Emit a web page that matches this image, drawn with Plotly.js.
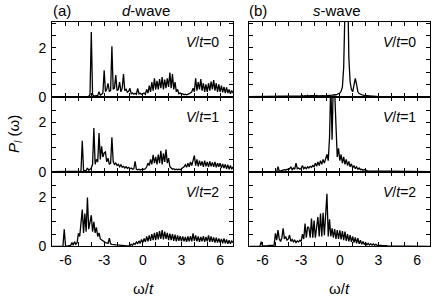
<!DOCTYPE html>
<html>
<head>
<meta charset="utf-8">
<script src="https://cdn.plot.ly/plotly-3.0.1.min.js"></script>
<style>html,body{margin:0;padding:0;background:#fff;}#chart{width:436px;height:299px;}</style>
</head>
<body>
<div id="chart"></div>
<script>
// ---- data ----
const omega = [
-7,-6.9,-6.8,-6.7,-6.6,-6.5,-6.4,-6.3,-6.2,-6.1,
-6,-5.9,-5.8,-5.7,-5.6,-5.5,-5.4,-5.3,-5.2,-5.1,
-5,-4.9,-4.8,-4.7,-4.6,-4.5,-4.4,-4.3,-4.2,-4.1,
-4,-3.9,-3.8,-3.7,-3.6,-3.5,-3.4,-3.3,-3.2,-3.1,
-3,-2.9,-2.8,-2.7,-2.6,-2.5,-2.4,-2.3,-2.2,-2.1,
-2,-1.9,-1.8,-1.7,-1.6,-1.5,-1.4,-1.3,-1.2,-1.1,
-1,-0.9,-0.8,-0.7,-0.6,-0.5,-0.4,-0.3,-0.2,-0.1,
0,0.1,0.2,0.3,0.4,0.5,0.6,0.7,0.8,0.9,
1,1.1,1.2,1.3,1.4,1.5,1.6,1.7,1.8,1.9,
2,2.1,2.2,2.3,2.4,2.5,2.6,2.7,2.8,2.9,
3,3.1,3.2,3.3,3.4,3.5,3.6,3.7,3.8,3.9,
4,4.1,4.2,4.3,4.4,4.5,4.6,4.7,4.8,4.9,
5,5.1,5.2,5.3,5.4,5.5,5.6,5.7,5.8,5.9,
6,6.1,6.2,6.3,6.4,6.5,6.6,6.7,6.8,6.9,
7];

const dWaveV0 = [
0,0,0,0,0,0,0,0,0,0,
0,0,0,0,0,0,0,0,0,0,
0,0,0,0,0,0,0,0,0.01,0.08,
2.64,0.08,0.03,0.03,0.04,0.05,0.2,0.06,0.1,0.15,
1.08,0.2,0.3,0.54,0.22,0.25,2.06,0.3,0.35,0.88,
0.25,0.3,0.6,0.2,0.35,0.92,0.25,0.3,0.18,0.22,
0.34,0.12,0.15,0.1,0.14,0.1,0.34,0.12,0.14,0.1,
0.12,0.15,0.1,0.3,0.15,0.45,0.2,0.6,0.25,0.75,
0.3,0.65,0.3,0.72,0.35,0.8,0.3,0.7,0.35,0.75,
0.4,0.99,0.35,0.92,0.3,0.6,0.2,0.3,0.12,0.15,
0.1,0.12,0.08,0.1,0.08,0.1,0.12,0.15,0.2,0.35,
0.2,0.75,0.25,0.6,0.3,0.72,0.25,0.55,0.2,0.5,
0.2,0.55,0.25,0.62,0.3,0.68,0.25,0.55,0.2,0.5,
0.2,0.45,0.18,0.4,0.15,0.38,0.15,0.3,0.12,0.25,
0.15];

const sWaveV0 = [
0,0,0,0,0,0,0,0,0,0,
0,0,0,0,0,0,0,0,0,0,
0,0,0,0,0,0,0,0,0,0,
0,0,0,0,0,0.01,0.02,0.01,0.02,0.03,
0.03,0.05,0.02,0.04,0.03,0.06,0.03,0.04,0.05,0.03,
0.04,0.03,0.05,0.03,0.04,0.03,0.05,0.04,0.03,0.04,
0.04,0.05,0.04,0.05,0.06,0.07,0.06,0.08,0.1,0.12,
0.15,0.22,0.4,1.2,3.2,6,5,1.6,0.6,0.3,
0.2,0.45,0.75,0.5,0.2,0.13,0.1,0.08,0.06,0.05,
0.04,0.04,0.03,0.03,0.02,0.02,0.02,0.01,0.01,0.01,
0,0,0,0,0,0,0,0,0,0,
0,0,0,0,0,0,0,0,0,0,
0,0,0,0,0,0,0,0,0,0,
0,0,0,0,0,0,0,0,0,0,
0];

const dWaveV1 = [
0,0,0,0,0,0,0,0,0,0,
0,0,0,0,0,0,0,0,0,0,
0,0,0.02,1.26,0.05,0.03,0.05,0.15,0.06,0.1,
0.15,0.3,1.78,0.3,0.5,0.4,1.57,0.5,1.03,0.6,
0.76,0.8,0.4,0.55,0.3,0.35,1.4,0.4,0.3,0.35,
0.25,0.3,0.2,0.28,0.18,0.22,0.15,0.2,0.14,0.18,
0.12,0.15,0.1,0.12,0.42,0.1,0.08,0.1,0.07,0.09,
0.08,0.1,0.12,0.2,0.35,0.25,0.5,0.3,0.69,0.35,
0.6,0.3,0.7,0.35,0.85,0.3,0.75,0.4,0.9,0.35,
0.55,0.2,0.15,0.1,0.12,0.08,0.1,0.08,0.1,0.08,
0.12,0.15,0.2,0.28,0.18,0.35,0.2,0.4,0.25,0.45,
0.66,0.25,0.5,0.22,0.45,0.25,0.42,0.2,0.45,0.22,
0.4,0.2,0.42,0.22,0.38,0.2,0.4,0.18,0.35,0.2,
0.35,0.15,0.32,0.15,0.3,0.12,0.28,0.1,0.25,0.1,
0.2];

const sWaveV1 = [
0,0,0,0,0,0,0,0,0,0,
0,0,0,0,0,0,0,0,0,0,
0,0.01,0.2,0.02,0.03,0.05,0.04,0.08,0.06,0.1,
0.08,0.12,0.2,0.08,0.15,0.1,0.35,0.12,0.15,0.1,
0.14,0.25,0.12,0.18,0.12,0.2,0.15,0.22,0.18,0.25,
0.2,0.35,0.22,0.4,0.25,0.45,0.3,0.5,0.35,0.55,
0.7,0.45,1.37,3.6,1.3,3.8,3.3,1.9,0.6,0.95,
0.45,0.7,0.35,0.6,0.3,0.5,0.25,0.42,0.2,0.32,
0.15,0.25,0.12,0.2,0.1,0.15,0.08,0.1,0.06,0.08,
0.05,0.04,0.03,0.03,0.02,0.02,0.01,0.01,0.01,0,
0,0,0,0,0,0,0,0,0,0,
0,0,0,0,0,0,0,0,0,0,
0,0,0,0,0,0,0,0,0,0,
0,0,0,0,0,0,0,0,0,0,
0];

const dWaveV2 = [
0,0,0,0,0,0,0,0,0.01,0.69,
0.02,0.01,0.02,0.03,0.04,0.15,0.05,0.19,0.08,0.15,
0.53,0.4,1.07,1.5,0.55,1.34,0.6,1.99,0.7,1.07,
1.27,0.6,1.0,0.55,0.77,0.4,0.55,0.3,0.26,0.2,
0.18,0.15,0.14,0.12,0.33,0.1,0.08,0.09,0.07,0.06,
0.06,0.05,0.05,0.04,0.04,0.03,0.03,0.02,0.02,0.02,
0.03,0.08,0.05,0.12,0.08,0.18,0.1,0.22,0.12,0.28,
0.15,0.32,0.18,0.4,0.2,0.45,0.22,0.5,0.25,0.55,
0.25,0.58,0.28,0.62,0.3,0.66,0.28,0.6,0.3,0.55,
0.25,0.52,0.25,0.5,0.22,0.48,0.2,0.45,0.22,0.42,
0.2,0.4,0.2,0.38,0.18,0.4,0.2,0.42,0.2,0.53,
0.22,0.45,0.2,0.4,0.18,0.38,0.2,0.42,0.18,0.38,
0.2,0.45,0.18,0.4,0.18,0.36,0.15,0.35,0.15,0.32,
0.15,0.3,0.12,0.32,0.12,0.28,0.1,0.25,0.1,0.22,
0.15];

const sWaveV2 = [
0,0,0,0,0,0,0,0,0.01,0.19,
0.01,0.02,0.01,0.03,0.02,0.04,0.03,0.05,0.04,0.05,
0.53,0.25,0.66,0.3,0.2,0.35,0.73,0.3,0.4,0.25,
0.3,0.46,0.2,0.28,0.18,0.25,0.15,0.22,0.18,0.25,
0.2,0.5,0.3,0.93,0.35,0.8,0.75,0.35,1.14,0.35,
1.05,0.35,0.9,1.2,0.4,1.34,0.4,1.37,0.45,1.3,
2.15,0.4,1.1,0.4,0.73,0.35,0.7,0.3,0.66,0.3,
0.65,0.28,0.62,0.25,0.6,0.22,0.5,0.2,0.46,0.18,
0.4,0.15,0.36,0.12,0.33,0.1,0.25,0.08,0.2,0.07,
0.15,0.06,0.12,0.05,0.1,0.05,0.1,0.04,0.08,0.04,
0.05,0.04,0.04,0.03,0.04,0.03,0.03,0.02,0.02,0.02,
0.02,0.01,0.01,0.01,0.01,0.01,0,0,0,0,
0,0,0,0,0,0,0,0,0,0,
0,0,0,0,0,0,0,0,0,0,
0];

const panelSeries = [dWaveV0, sWaveV0, dWaveV1, sWaveV1, dWaveV2, sWaveV2];
const vLabels = ['0', '0', '1', '1', '2', '2'];
const xTickVals = [-6, -3, 0, 3, 6];
const xTickText = ['-6', '-3', '0', '3', '6'];
const yTickVals = [0, 2];
const yTickText = ['0', '2'];

// ---- layout helpers ----
const W = 436, H = 299;
const px = v => v / W;
const py = v => 1 - v / H;
const FONT = 'Liberation Sans, Arial, Helvetica, sans-serif';

const colX = [[52, 233], [249, 430]];
const rowY = [[22, 96.7], [96.7, 171.7], [171.7, 246.3]];

const traces = [];
const layout = {
  width: W, height: H,
  margin: {l: 0, r: 0, t: 0, b: 0},
  paper_bgcolor: '#fff', plot_bgcolor: '#fff',
  showlegend: false,
  font: {family: FONT, size: 14, color: '#000'},
  annotations: []
};

for (let i = 0; i < 6; i++) {
  const r = Math.floor(i / 2), c = i % 2;
  const n = i + 1;
  const xa = 'xaxis' + (n === 1 ? '' : n);
  const ya = 'yaxis' + (n === 1 ? '' : n);
  traces.push({
    x: omega, y: panelSeries[i], type: 'scatter', mode: 'lines',
    xaxis: 'x' + (n === 1 ? '' : n), yaxis: 'y' + (n === 1 ? '' : n),
    line: {color: '#000', width: 1.3}, hoverinfo: 'skip'
  });
  layout[xa] = {
    domain: [px(colX[c][0]), px(colX[c][1])],
    anchor: 'y' + (n === 1 ? '' : n),
    range: [-7.05, 7.0],
    tickmode: 'array', tickvals: xTickVals, ticktext: xTickText,
    ticks: 'inside', ticklen: 4, tickwidth: 1, tickcolor: '#000',
    minor: {tickmode: 'linear', tick0: 0, dtick: 1, ticks: 'inside', ticklen: 4, tickwidth: 1, tickcolor: '#000'},
    showline: true, linecolor: '#000', linewidth: 1, mirror: 'ticks',
    showgrid: false, zeroline: false, fixedrange: true,
    showticklabels: r === 2, ticklabelstandoff: 1,
    tickfont: {family: FONT, size: 14, color: '#000'}
  };
  layout[ya] = {
    domain: [py(rowY[r][1]), py(rowY[r][0])],
    anchor: 'x' + (n === 1 ? '' : n),
    range: [0, 3.05],
    tickmode: 'array', tickvals: yTickVals, ticktext: yTickText,
    ticks: 'inside', ticklen: 4, tickwidth: 1, tickcolor: '#000',
    minor: {tickmode: 'linear', tick0: 0, dtick: 0.5, ticks: 'inside', ticklen: 4, tickwidth: 1, tickcolor: '#000'},
    showline: true, linecolor: '#000', linewidth: 1, mirror: 'ticks',
    showgrid: false, zeroline: false, fixedrange: true,
    showticklabels: c === 0, ticklabelstandoff: 2,
    tickfont: {family: FONT, size: 14, color: '#000'}
  };
  layout.annotations.push({
    xref: 'paper', yref: 'paper',
    x: px(colX[c][1] - 12), y: py(rowY[r][0] + 20),
    xanchor: 'right', yanchor: 'middle', showarrow: false,
    text: '<i>V</i>/<i>t</i>=' + vLabels[i],
    font: {family: FONT, size: 14, color: '#000'}
  });
}

const headers = [
  {t: '(a)', x: 62}, {t: '<i>d</i>-wave', x: 146},
  {t: '(b)', x: 258}, {t: '<i>s</i>-wave', x: 337}
];
headers.forEach(h => layout.annotations.push({
  xref: 'paper', yref: 'paper', x: px(h.x), y: py(11),
  xanchor: 'center', yanchor: 'middle', showarrow: false,
  text: h.t, font: {family: FONT, size: 15, color: '#000'}
}));

[143, 339].forEach(xc => layout.annotations.push({
  xref: 'paper', yref: 'paper', x: px(xc), y: py(288),
  xanchor: 'center', yanchor: 'middle', showarrow: false,
  text: 'ω/<i>t</i>',
  font: {family: FONT, size: 15, color: '#000'}
}));

layout.annotations.push({
  xref: 'paper', yref: 'paper', x: px(15), y: py(134),
  xanchor: 'center', yanchor: 'middle', showarrow: false, textangle: -90,
  text: '<i>P</i><sub><i>l</i></sub> (ω)',
  font: {family: FONT, size: 15, color: '#000'}
});

Plotly.newPlot('chart', traces, layout, {staticPlot: true, displayModeBar: false});
</script>
</body>
</html>
